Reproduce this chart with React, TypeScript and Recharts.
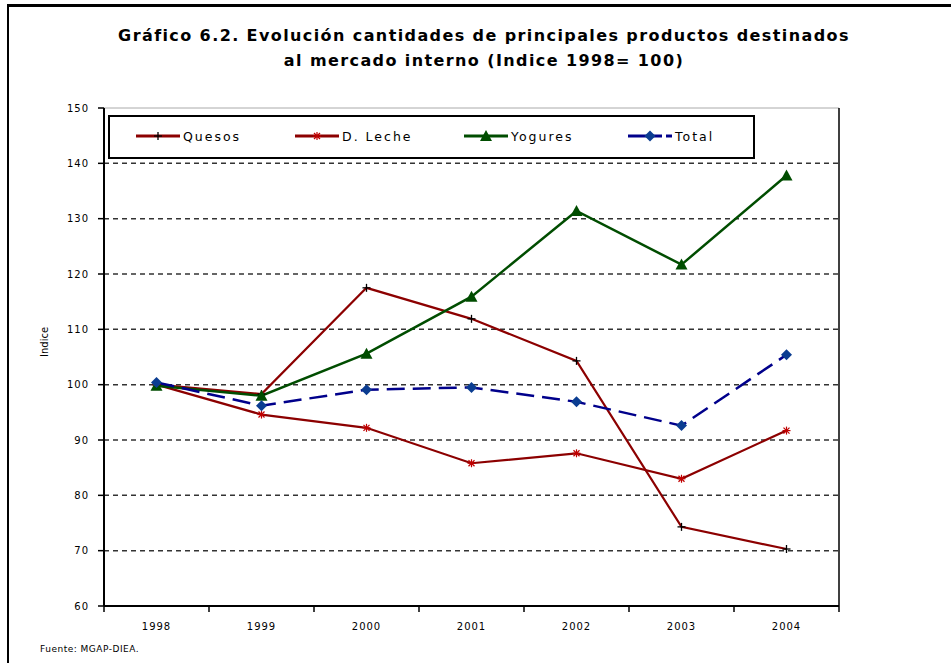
import React from 'react'
import { LineChart, Line, XAxis, YAxis, ReferenceLine } from 'recharts'

const years = ['1998', '1999', '2000', '2001', '2002', '2003', '2004']
const quesos = [100, 98.3, 117.5, 111.9, 104.3, 74.3, 70.3]
const dLeche = [100, 94.6, 92.2, 85.8, 87.6, 83.0, 91.7]
const yogures = [99.8, 98.0, 105.6, 115.9, 131.4, 121.7, 137.8]
const total = [100.4, 96.2, 99.1, 99.5, 96.9, 92.6, 105.4]
const yTicks = [60, 70, 80, 90, 100, 110, 120, 130, 140, 150]
const gridValues = [70, 80, 90, 100, 110, 120, 130, 140]

const data = years.map((year, i) => ({
  year,
  quesos: quesos[i],
  dLeche: dLeche[i],
  yogures: yogures[i],
  total: total[i],
}))

const RED = '#8c0000'
const GREEN = '#004d00'
const BLUE = '#00008b'
const DIAMOND = '#0b3d91'
const FONT = '"DejaVu Sans", Verdana, sans-serif'

const W = 951
const H = 663
const PLOT_LEFT = 104
const PLOT_RIGHT = 839
const HALF_STEP = (PLOT_RIGHT - PLOT_LEFT) / years.length / 2

function PlusDot({ cx, cy }: any) {
  if (cx == null || cy == null) return <g />
  return (
    <g stroke="#000" strokeWidth={1.3}>
      <line x1={cx - 4} y1={cy} x2={cx + 4} y2={cy} />
      <line x1={cx} y1={cy - 4} x2={cx} y2={cy + 4} />
    </g>
  )
}

function StarDot({ cx, cy }: any) {
  if (cx == null || cy == null) return <g />
  return (
    <g stroke="#c00000" strokeWidth={1.2}>
      <line x1={cx - 4} y1={cy} x2={cx + 4} y2={cy} />
      <line x1={cx - 3} y1={cy - 3} x2={cx + 3} y2={cy + 3} />
      <line x1={cx - 3} y1={cy + 3} x2={cx + 3} y2={cy - 3} />
      <line x1={cx} y1={cy - 4} x2={cx} y2={cy + 4} />
    </g>
  )
}

function TriangleDot({ cx, cy }: any) {
  if (cx == null || cy == null) return <g />
  return <polygon points={`${cx},${cy - 6} ${cx + 6},${cy + 5} ${cx - 6},${cy + 5}`} fill={GREEN} />
}

function DiamondDot({ cx, cy }: any) {
  if (cx == null || cy == null) return <g />
  return <polygon points={`${cx},${cy - 5.5} ${cx + 5.5},${cy} ${cx},${cy + 5.5} ${cx - 5.5},${cy}`} fill={DIAMOND} />
}

function XTick({ x, y, payload, index }: any) {
  const last = index === years.length - 1
  return (
    <g>
      <line x1={x - HALF_STEP} y1={y - 8} x2={x - HALF_STEP} y2={y - 2} stroke="#000" strokeWidth={1.5} />
      {last && <line x1={x + HALF_STEP} y1={y - 8} x2={x + HALF_STEP} y2={y - 2} stroke="#000" strokeWidth={1.5} />}
      <text x={x} y={y + 16} textAnchor="middle" fontSize={10} fontFamily={FONT} letterSpacing={1} fill="#000">
        {payload.value}
      </text>
    </g>
  )
}

const legendItems = [
  { name: 'Quesos', color: RED, dot: 'plus', left: 134 },
  { name: 'D. Leche', color: RED, dot: 'star', left: 293 },
  { name: 'Yogures', color: GREEN, dot: 'tri', left: 462 },
  { name: 'Total', color: BLUE, dot: 'diamond', left: 626 },
]

function LegendBox() {
  return (
    <div
      style={{
        position: 'absolute',
        left: 108,
        top: 115,
        width: 647,
        height: 44,
        border: '2px solid #000',
        background: '#fff',
        boxSizing: 'border-box',
      }}
    >
      {legendItems.map((it) => (
        <div key={it.name} style={{ position: 'absolute', left: it.left - 108, top: 11, display: 'flex', alignItems: 'center' }}>
          <svg width={46} height={16}>
            <line
              x1={0}
              y1={8}
              x2={it.dot === 'diamond' ? 34 : 44}
              y2={8}
              stroke={it.color}
              strokeWidth={3}
            />
            {it.dot === 'diamond' && <line x1={38} y1={8} x2={44} y2={8} stroke={it.color} strokeWidth={3} />}
            {it.dot === 'plus' && <PlusDot cx={22} cy={8} />}
            {it.dot === 'star' && <StarDot cx={22} cy={8} />}
            {it.dot === 'tri' && <TriangleDot cx={22} cy={8} />}
            {it.dot === 'diamond' && <DiamondDot cx={22} cy={8} />}
          </svg>
          <span style={{ fontFamily: FONT, fontSize: 12.5, letterSpacing: 2, marginLeft: 1, color: '#000' }}>{it.name}</span>
        </div>
      ))}
    </div>
  )
}

export default function App() {
  return (
    <div style={{ position: 'absolute', left: 0, top: 0, width: W, height: H, background: '#fff', overflow: 'hidden' }}>
      <div style={{ position: 'absolute', left: 7, top: 4, width: W, height: H, borderTop: '3px solid #000', borderLeft: '2px solid #000' }} />
      <div
        style={{
          position: 'absolute',
          left: 0,
          width: 968,
          top: 23,
          textAlign: 'center',
          fontFamily: FONT,
          fontWeight: 'bold',
          fontSize: 16,
          lineHeight: '25px',
          letterSpacing: 1.4,
          color: '#000',
        }}
      >
        Gráfico 6.2. Evolución cantidades de principales productos destinados
        <br />
        al mercado interno (Indice 1998= 100)
      </div>
      <div style={{ position: 'absolute', left: 0, top: 0 }}>
        <LineChart width={W} height={H} data={data} margin={{ top: 108, right: W - PLOT_RIGHT - 1, bottom: 20, left: 0 }}>
          <ReferenceLine y={150} stroke="#aaa" strokeWidth={1} />
          {gridValues.map((v) => (
            <ReferenceLine key={v} y={v} stroke="#333" strokeWidth={1.5} strokeDasharray="5 4" />
          ))}
          <XAxis
            dataKey="year"
            height={37}
            padding={{ left: HALF_STEP, right: HALF_STEP }}
            axisLine={{ stroke: '#000', strokeWidth: 2 }}
            tickLine={false}
            tick={<XTick />}
            interval={0}
          />
          <YAxis
            width={PLOT_LEFT}
            domain={[60, 150]}
            ticks={yTicks}
            interval={0}
            axisLine={{ stroke: '#000', strokeWidth: 2 }}
            tickLine={{ stroke: '#000', strokeWidth: 1.5 }}
            tickSize={6}
            tickMargin={9}
            tick={{ fontSize: 10, fontFamily: FONT, fill: '#000', letterSpacing: 1 }}
            label={{ value: 'Indice', angle: -90, position: 'insideLeft', offset: 44, fontSize: 10, fontFamily: FONT, fill: '#000' }}
          />
          <YAxis
            yAxisId="right"
            orientation="right"
            width={1}
            domain={[60, 150]}
            tick={false}
            tickLine={false}
            axisLine={{ stroke: '#000', strokeWidth: 1.5 }}
          />
          <Line dataKey="quesos" stroke={RED} strokeWidth={2.2} dot={(p: any) => <PlusDot key={p.index} {...p} />} isAnimationActive={false} />
          <Line dataKey="dLeche" stroke={RED} strokeWidth={2.2} dot={(p: any) => <StarDot key={p.index} {...p} />} isAnimationActive={false} />
          <Line dataKey="yogures" stroke={GREEN} strokeWidth={2.5} dot={(p: any) => <TriangleDot key={p.index} {...p} />} isAnimationActive={false} />
          <Line
            dataKey="total"
            stroke={BLUE}
            strokeWidth={2.5}
            strokeDasharray="18 8"
            dot={(p: any) => <DiamondDot key={p.index} {...p} />}
            isAnimationActive={false}
          />
        </LineChart>
      </div>
      <LegendBox />
      <div style={{ position: 'absolute', left: 40, top: 644, fontFamily: FONT, fontSize: 9, letterSpacing: 0.5, color: '#000' }}>
        Fuente: MGAP-DIEA.
      </div>
    </div>
  )
}
